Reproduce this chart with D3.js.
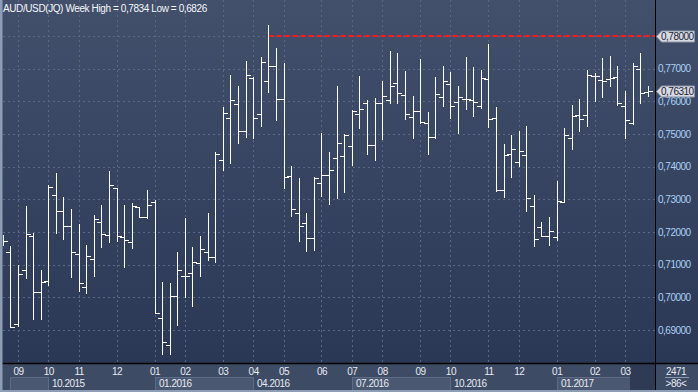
<!DOCTYPE html>
<html>
<head>
<meta charset="utf-8">
<script src="https://d3js.org/d3.v7.min.js"></script>
<style>
    body{margin:0;background:#2e3b57;}
    svg{display:block;font-family:"Liberation Sans",Arial,sans-serif;}
    .lbl{font-size:10px;letter-spacing:-0.5px;}
    .grid{stroke:#5a6883;stroke-width:1;stroke-dasharray:2,3;shape-rendering:crispEdges;}
    .bar{stroke:#fff;stroke-width:1;shape-rendering:crispEdges;}
</style>
</head>
<body>
<div id="container"></div>
<script>
    // weekly AUD/USD bars
    var opens = [0.7175,0.7138,0.6917,0.7084,0.7188,0.7017,0.7049,0.7313,0.7263,0.7217,
                 0.7132,0.7031,0.7117,0.7230,0.7191,0.7335,0.7184,0.7169,0.7277,0.7245,
                 0.7293,0.6936,0.6854,0.7004,0.7065,0.7074,0.7105,0.7139,0.7123,0.7419,
                 0.7548,0.7591,0.7509,0.7671,0.7560,0.7661,0.7707,0.7606,0.7371,0.7258,
                 0.7228,0.7181,0.7349,0.7374,0.7426,0.7432,0.7462,0.7562,0.7594,0.7465,
                 0.7594,0.7603,0.7656,0.7618,0.7551,0.7570,0.7533,0.7492,0.7612,0.7652,
                 0.7597,0.7607,0.7603,0.7585,0.7667,0.7548,0.7329,0.7438,0.7413,0.7435,
                 0.7279,0.7214,0.7189,0.7184,0.7291,0.7487,0.7557,0.7557,0.7677,0.7665,
                 0.7669,0.7674,0.7586,0.7533,0.7699,0.7629];
    var highs = [0.7190,0.7157,0.7099,0.7280,0.7198,0.7084,0.7344,0.7381,0.7307,0.7270,
                 0.7225,0.7160,0.7252,0.7283,0.7387,0.7335,0.7283,0.7289,0.7277,0.7329,
                 0.7298,0.7046,0.7043,0.7139,0.7242,0.7153,0.7188,0.7259,0.7444,0.7582,
                 0.7681,0.7647,0.7724,0.7674,0.7736,0.7834,0.7763,0.7717,0.7402,0.7365,
                 0.7258,0.7367,0.7503,0.7445,0.7647,0.7500,0.7572,0.7678,0.7603,0.7610,
                 0.7662,0.7753,0.7748,0.7693,0.7615,0.7729,0.7567,0.7675,0.7707,0.7690,
                 0.7647,0.7735,0.7704,0.7695,0.7776,0.7582,0.7469,0.7497,0.7509,0.7525,
                 0.7313,0.7232,0.7246,0.7356,0.7519,0.7589,0.7607,0.7696,0.7687,0.7733,
                 0.7739,0.7708,0.7632,0.7718,0.7748,0.7647];
    var lows  = [0.7160,0.6908,0.6912,0.7060,0.6935,0.6935,0.7038,0.7196,0.7180,0.7063,
                 0.7020,0.7014,0.7066,0.7154,0.7168,0.7171,0.7094,0.7152,0.7245,0.7242,
                 0.6951,0.6826,0.6826,0.6916,0.7000,0.6973,0.7066,0.7114,0.7107,0.7390,
                 0.7412,0.7474,0.7492,0.7489,0.7526,0.7630,0.7544,0.7336,0.7250,0.7174,
                 0.7143,0.7146,0.7310,0.7285,0.7305,0.7324,0.7406,0.7519,0.7440,0.7419,
                 0.7486,0.7594,0.7596,0.7547,0.7489,0.7535,0.7440,0.7489,0.7587,0.7550,
                 0.7503,0.7576,0.7555,0.7580,0.7522,0.7327,0.7308,0.7369,0.7403,0.7265,
                 0.7158,0.7187,0.7161,0.7176,0.7291,0.7455,0.7510,0.7526,0.7602,0.7614,
                 0.7647,0.7590,0.7489,0.7532,0.7596,0.7615];
    var closes = [0.7172,0.6910,0.7070,0.7193,0.7015,0.7046,0.7338,0.7263,0.7217,0.7139,
                 0.7043,0.7126,0.7239,0.7193,0.7344,0.7189,0.7175,0.7279,0.7245,0.7282,
                 0.6951,0.6862,0.7004,0.7084,0.7065,0.7107,0.7147,0.7124,0.7438,0.7563,
                 0.7603,0.7509,0.7681,0.7550,0.7721,0.7707,0.7606,0.7367,0.7270,0.7219,
                 0.7181,0.7364,0.7374,0.7389,0.7471,0.7496,0.7570,0.7576,0.7465,0.7594,
                 0.7617,0.7646,0.7626,0.7562,0.7570,0.7537,0.7490,0.7621,0.7661,0.7585,
                 0.7612,0.7606,0.7597,0.7672,0.7546,0.7330,0.7435,0.7454,0.7447,0.7303,
                 0.7178,0.7189,0.7204,0.7294,0.7496,0.7554,0.7545,0.7680,0.7677,0.7661,
                 0.7670,0.7595,0.7543,0.7707,0.7626,0.7631];

    var priceTicks = [0.69,0.70,0.71,0.72,0.73,0.74,0.75,0.76,0.77];
    var gridLevels = [0.69,0.70,0.71,0.72,0.73,0.74,0.75,0.76,0.77,0.78];
    var monthIdx    = [2,6,10,15,20,24,29,33,37,42,46,50,55,59,64,68,73,78,82];
    var monthLabels = ["09","10","11","12","01","02","03","04","05","06","07","08","09","10","11","12","01","02","03"];
    var quarterIdx    = [1,6,20,33,46,59,73];
    var quarterLabels = ["","10.2015","01.2016","04.2016","07.2016","10.2016","01.2017"];
    var lineLevel = 0.78, lineFrom = 35;   // red line starts at the week high bar
    var lastPrice = 0.7631;

    var W = 698, H = 392;
    var plotL = 3, plotR = 655, plotB = 363;

    var comma = d3.formatLocale({decimal:",", thousands:".", grouping:[3], currency:["",""]});
    var fmt = comma.format(".5f");

    var svg, x, y;

    init();
    draw();

    function init(){
        svg = d3.select("#container").append("svg")
            .attr("width", W).attr("height", H);

        var defs = svg.append("defs");
        var g = defs.append("linearGradient").attr("id","bg")
            .attr("x1",0).attr("y1",0).attr("x2",0).attr("y2",1);
        g.append("stop").attr("offset","0%").attr("stop-color","#43506c");
        g.append("stop").attr("offset","100%").attr("stop-color","#2b3855");
        defs.append("clipPath").attr("id","clip").append("rect")
            .attr("x",plotL).attr("y",0).attr("width",plotR-plotL).attr("height",plotB);

        svg.append("rect").attr("width",W).attr("height",plotB).attr("fill","url(#bg)");
        svg.append("rect").attr("y",plotB).attr("width",W).attr("height",H-plotB).attr("fill","#3e4b65");

        x = d3.scaleLinear().domain([0, opens.length-1]).range([2.8, 647.7]);
        y = d3.scaleLinear().domain([0.68, 0.78]).range([362.7, 36]);
    }

    function px(v){ return Math.round(v) + 0.5; }

    function draw(){
        // grid
        svg.append("g").selectAll("line").data(gridLevels).enter().append("line")
            .attr("class","grid")
            .attr("x1",plotL).attr("x2",plotR)
            .attr("y1",function(d){return px(y(d))}).attr("y2",function(d){return px(y(d))});
        svg.append("g").selectAll("line").data(monthIdx).enter().append("line")
            .attr("class","grid")
            .attr("x1",function(d){return px(x(d))}).attr("x2",function(d){return px(x(d))})
            .attr("y1",0).attr("y2",plotB);

        // red level line
        svg.append("line")
            .attr("x1",x(lineFrom)).attr("x2",plotR)
            .attr("y1",y(lineLevel)).attr("y2",y(lineLevel))
            .attr("stroke","#ff1a1a").attr("stroke-width",2).attr("stroke-dasharray","5,3");

        // OHLC bars
        var bars = svg.append("g").attr("clip-path","url(#clip)")
            .selectAll("g").data(d3.range(opens.length)).enter().append("g");
        bars.append("line").attr("class","bar")
            .attr("x1",function(i){return px(x(i))}).attr("x2",function(i){return px(x(i))})
            .attr("y1",function(i){return Math.round(y(highs[i]))})
            .attr("y2",function(i){return Math.round(y(lows[i]))+1});
        bars.append("line").attr("class","bar")
            .attr("x1",function(i){return Math.round(x(i))-4}).attr("x2",function(i){return Math.round(x(i))})
            .attr("y1",function(i){return px(y(opens[i]))}).attr("y2",function(i){return px(y(opens[i]))});
        bars.append("line").attr("class","bar")
            .attr("x1",function(i){return Math.round(x(i))+1}).attr("x2",function(i){return Math.round(x(i))+5})
            .attr("y1",function(i){return px(y(closes[i]))}).attr("y2",function(i){return px(y(closes[i]))});

        // title
        svg.append("text").attr("class","lbl").attr("x",3).attr("y",12)
            .attr("fill","#f4f6fa").style("letter-spacing","-0.4px")
            .text("AUD/USD(JQ) Week High = 0,7834 Low = 0,6826");

        // price axis
        var ay = svg.append("g").attr("transform","translate(658,0)")
            .call(d3.axisRight(y).tickValues(priceTicks).tickSize(0).tickPadding(0).tickFormat(fmt));
        ay.select(".domain").remove();
        ay.selectAll("text").attr("class","lbl").attr("fill","#a9d0f5").attr("font-family",null).attr("font-size",null);

        // quarter boxes
        var qb = svg.append("g");
        quarterIdx.forEach(function(q, k){
            var x0 = Math.round(x(q)), x1 = k < quarterIdx.length-1 ? Math.round(x(quarterIdx[k+1])) : 630;
            if(k % 2 == 0){
                qb.append("rect").attr("x",x0+0.5).attr("y",377.5).attr("width",x1-x0).attr("height",14)
                    .attr("fill","#4b5872").attr("stroke","#5d6b86");
            }
            qb.append("text").attr("class","lbl").attr("x",x0+4).attr("y",387)
                .attr("fill","#e6eaf1").text(quarterLabels[k]);
        });
        svg.append("rect").attr("x",630).attr("y",364).attr("width",25).attr("height",27).attr("fill","#2f3b54");

        // month axis
        var ax = svg.append("g").attr("transform","translate(0,"+plotB+")")
            .call(d3.axisBottom(x).tickValues(monthIdx).tickSize(0).tickPadding(5)
                .tickFormat(function(d,i){return monthLabels[i]}));
        ax.select(".domain").remove();
        ax.selectAll("text").attr("class","lbl").attr("fill","#e6eaf1").attr("font-family",null).attr("font-size",null);

        // frame lines
        svg.append("line").attr("x1",0).attr("x2",W).attr("y1",plotB+0.5).attr("y2",plotB+0.5)
            .attr("stroke","#000").attr("stroke-width",1.5);
        svg.append("line").attr("x1",plotR+0.5).attr("x2",plotR+0.5).attr("y1",0).attr("y2",H)
            .attr("stroke","#000");
        svg.append("rect").attr("x",0).attr("y",0).attr("width",2.5).attr("height",H).attr("fill","#8e9db6");
        svg.append("rect").attr("x",0).attr("y",H-2).attr("width",W).attr("height",2).attr("fill","#8e9db6");

        // bar count corner
        svg.append("text").attr("class","lbl").attr("x",676).attr("y",375).attr("text-anchor","middle")
            .attr("fill","#e6eaf1").text("2471");
        svg.append("line").attr("x1",665).attr("x2",689).attr("y1",377.5).attr("y2",377.5).attr("stroke","#8a97ae");
        svg.append("text").attr("class","lbl").attr("x",676).attr("y",387).attr("text-anchor","middle")
            .attr("fill","#e6eaf1").text(">86<");

        // price tags
        tag(lineLevel);
        tag(lastPrice);
    }

    function tag(v){
        var cy = Math.round(y(v)) + 0.5;
        svg.append("path")
            .attr("d","M656.5,"+cy+" L661.5,"+(cy-5.5)+" L694.5,"+(cy-5.5)+" L694.5,"+(cy+5.5)+" L661.5,"+(cy+5.5)+" Z")
            .attr("fill","#d6dae2").attr("stroke","#8d96a8");
        svg.append("text").attr("class","lbl").attr("x",661).attr("y",cy+3.5)
            .attr("fill","#1c2233").text(fmt(v));
    }
</script>
</body>
</html>
